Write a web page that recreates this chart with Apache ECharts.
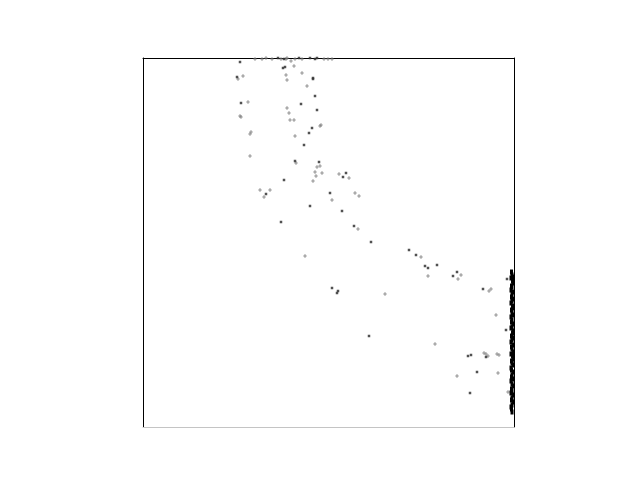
<!DOCTYPE html>
<html>
<head>
<meta charset="utf-8">
<script src="https://cdn.jsdelivr.net/npm/echarts@6/dist/echarts.min.js"></script>
<style>html,body{margin:0;padding:0;background:#fff;}#c{width:640px;height:480px;}</style>
</head>
<body>
<div id="c"></div>
<script>
// Dark square markers
const sqX = [97,94,140,142,170,170,172,158,98,174,169,166,161,152,176,203,200,141,123,187,167,199,138,211,228,266,273,282,285,294,310,314,189,195,194,340,363,226,325,328,343,334,327,364,135,141,167,172,174,156];
const sqY = [365,350,359,360,349,348,331,323,324,317,299,294,282,266,265,254,250,247,233,234,221,216,205,201,185,177,172,161,159,162,151,155,139,136,134,138,97,91,71,72,70,55,34,148,369,368,369,368,369,369];
// Grey plus markers
const plX = [95,100,148,143,151,143,144,159,164,105,144,146,97,98,147,151,177,178,108,107,152,107,153,177,174,172,179,173,196,206,170,117,127,121,189,212,216,215,162,278,285,318,315,242,346,348,353,292,341,343,345,354,356,314,355,365,112,119,129,138,144,152,159,181,185,189,123];
const plY = [348,351,366,368,361,352,347,354,341,325,319,314,311,310,307,307,301,302,295,293,291,271,264,261,260,255,254,251,253,249,246,237,237,230,227,234,231,198,171,170,151,152,148,133,136,138,112,83,74,73,71,73,72,51,54,35,368,368,368,368,369,368,368,368,368,368,369];
// Dense cluster along the right edge
const bandX = [368.5,369,370,368,369.5,370,368.5,369,368,370,369,368.5,370,369,368,369.5,370,368.5,369,370,368,369,368.5,370,369,368,370,369.5,368.5,370,369,368,370,368.5,369,370,368,369.5,370,368.5,369,370,368,368.5,370,369,368.5,370,368,369,370,368.5,369,368,370,369,368.5,370,369,368,368.5,369];
const bandY = [155,152,150,149,146,144,141,140,137,135,133,130,128,126,124,121,119,117,114,112,110,107,105,103,100,99,96,94,91,89,87,85,82,80,78,75,73,71,68,66,64,62,59,57,55,52,50,48,46,43,41,38,36,34,32,29,27,25,22,20,18,15];

const zip = (a, b) => a.map((v, i) => [v, b[i]]);
const chart = echarts.init(document.getElementById('c'), null, {renderer: 'canvas'});
const hidden = {axisTick:{show:false}, axisLabel:{show:false}, splitLine:{show:false}};
const line = c => ({show:true, onZero:false, lineStyle:{color:c, width:1}});
chart.setOption({
  backgroundColor: '#fff',
  animation: false,
  grid: {left:143, top:58, width:371, height:369, containLabel:false},
  xAxis: [
    Object.assign({type:'value', min:0, max:371, position:'bottom', axisLine: line('#c4c4c4')}, hidden),
    Object.assign({type:'value', min:0, max:371, position:'top', axisLine: line('#000')}, hidden)
  ],
  yAxis: [
    Object.assign({type:'value', min:0, max:369, position:'left', axisLine: line('#000')}, hidden),
    Object.assign({type:'value', min:0, max:369, position:'right', axisLine: line('#000')}, hidden)
  ],
  series: [
    {type:'scatter', data: zip(plX, plY), symbol:'path://M1,0H2V1H3V2H2V3H1V2H0V1H1Z', symbolSize:3.5,
     itemStyle:{color:'#7a7a7a', opacity:0.8}, clip:false},
    {type:'scatter', data: zip(sqX, sqY), symbol:'rect', symbolSize:2.5,
     itemStyle:{color:'#333', opacity:0.85}, clip:false},
    {type:'scatter', data: zip(bandX, bandY), symbol:'rect', symbolSize:[3,5],
     itemStyle:{color:'#000', opacity:1}, clip:false}
  ]
});
</script>
</body>
</html>
